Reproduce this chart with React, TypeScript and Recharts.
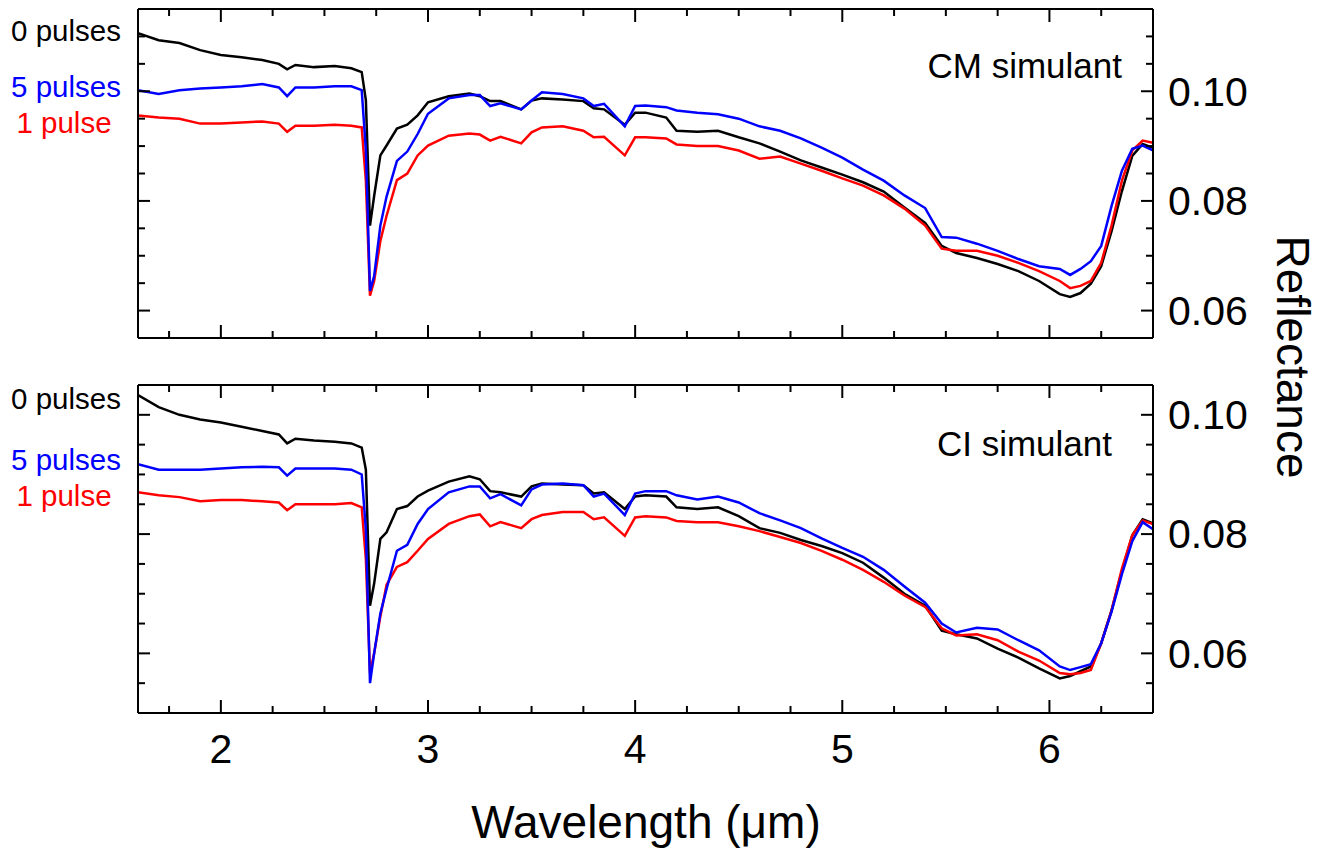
import React from "react";
import { LineChart, Line, XAxis, YAxis } from "recharts";

const FONT = "'Liberation Sans', Arial, sans-serif";

// wavelength grid (µm)
const wavelength = [
  1.6, 1.7, 1.8, 1.9, 2.0, 2.1, 2.2, 2.28, 2.32, 2.36, 2.45, 2.55, 2.63, 2.68,
  2.7, 2.72, 2.74, 2.77, 2.8, 2.85, 2.9, 2.95, 3.0, 3.1, 3.2, 3.25, 3.3, 3.35,
  3.45, 3.5, 3.55, 3.65, 3.75, 3.8, 3.85, 3.95, 4.0, 4.05, 4.15, 4.2, 4.3, 4.4,
  4.5, 4.6, 4.7, 4.8, 4.9, 5.0, 5.1, 5.2, 5.3, 5.4, 5.48, 5.55, 5.65, 5.75,
  5.85, 5.95, 6.05, 6.1, 6.15, 6.2, 6.25, 6.3, 6.35, 6.4, 6.45, 6.5,
];

// CM simulant
const cm0 = [
  0.1106, 0.1093, 0.1088, 0.1075, 0.1066, 0.1062, 0.1057, 0.105, 0.104, 0.1048, 0.1044, 0.1046, 0.1042, 0.1035,
  0.0984, 0.0755, 0.0809, 0.0883, 0.0901, 0.0932, 0.0939, 0.0956, 0.098, 0.0991, 0.0996, 0.0991, 0.0982, 0.0982,
  0.0967, 0.0983, 0.0987, 0.0985, 0.0982, 0.0969, 0.0967, 0.0939, 0.0961, 0.0961, 0.0952, 0.0928, 0.0926, 0.0928,
  0.0916, 0.0905, 0.089, 0.0874, 0.0861, 0.0848, 0.0834, 0.0817, 0.0788, 0.076, 0.0718, 0.0705, 0.0696, 0.0685,
  0.0672, 0.0654, 0.063, 0.0625, 0.0632, 0.0649, 0.0681, 0.0745, 0.0818, 0.0882, 0.0904, 0.0897,
];
const cm5 = [
  0.1002, 0.0995, 0.1002, 0.1005, 0.1007, 0.1009, 0.1013, 0.1007, 0.0991, 0.1007, 0.1007, 0.1009, 0.1009, 0.1002,
  0.0893, 0.0636, 0.0663, 0.0755, 0.0808, 0.0873, 0.089, 0.0922, 0.0959, 0.0987, 0.0993, 0.0993, 0.0973, 0.0978,
  0.0967, 0.0983, 0.0998, 0.0995, 0.0987, 0.0973, 0.0977, 0.0936, 0.0973, 0.0974, 0.0971, 0.0965, 0.0961, 0.0958,
  0.095, 0.0936, 0.0928, 0.0914, 0.0897, 0.0879, 0.0857, 0.0837, 0.081, 0.0787, 0.0734, 0.0733, 0.0722, 0.0709,
  0.0694, 0.0681, 0.0676, 0.0665, 0.0676, 0.069, 0.0718, 0.0791, 0.0855, 0.0895, 0.0901, 0.0892,
];
const cm1 = [
  0.0956, 0.0952, 0.095, 0.0941, 0.0941, 0.0943, 0.0945, 0.0941, 0.0926, 0.0937, 0.0937, 0.0939, 0.0937, 0.0934,
  0.0837, 0.0627, 0.0654, 0.0727, 0.0773, 0.0838, 0.085, 0.0883, 0.0901, 0.0919, 0.0923, 0.0921, 0.091, 0.0917,
  0.0905, 0.0925, 0.0934, 0.0936, 0.0928, 0.0916, 0.0917, 0.0883, 0.0916, 0.0916, 0.0914, 0.0903, 0.09, 0.09,
  0.0892, 0.0877, 0.0881, 0.0868, 0.0855, 0.0841, 0.0828, 0.081, 0.0786, 0.0755, 0.0713, 0.0709, 0.0709, 0.07,
  0.0687, 0.0672, 0.0654, 0.0641, 0.0645, 0.0654, 0.0687, 0.0755, 0.0837, 0.0892, 0.091, 0.0906,
];

// CI simulant
const ci0 = [
  0.1033, 0.1013, 0.1, 0.0992, 0.0987, 0.098, 0.0973, 0.0967, 0.0952, 0.096, 0.0957, 0.0955, 0.0952, 0.0945,
  0.0908, 0.068, 0.0717, 0.0792, 0.0803, 0.0842, 0.0847, 0.0863, 0.0873, 0.0888, 0.0897, 0.0892, 0.0872, 0.087,
  0.0863, 0.088, 0.0885, 0.0883, 0.0882, 0.0868, 0.087, 0.0842, 0.0863, 0.0865, 0.0863, 0.0845, 0.0842, 0.0845,
  0.083, 0.081, 0.0802, 0.079, 0.078, 0.0768, 0.0752, 0.0727, 0.07, 0.068, 0.0638, 0.0632, 0.0625, 0.0608,
  0.0593, 0.0575, 0.0558, 0.0562, 0.057, 0.0578, 0.0617, 0.0672, 0.0738, 0.0798, 0.0825, 0.0818,
];
const ci5 = [
  0.0917, 0.0908, 0.0908, 0.0908, 0.091, 0.0912, 0.0913, 0.0912, 0.0898, 0.091, 0.091, 0.091, 0.0908, 0.09,
  0.0808, 0.055, 0.06, 0.0667, 0.0708, 0.0772, 0.0782, 0.0817, 0.0842, 0.087, 0.088, 0.088, 0.086, 0.0867,
  0.0848, 0.0875, 0.0883, 0.0885, 0.0882, 0.0863, 0.0868, 0.0832, 0.0868, 0.0872, 0.0872, 0.0865, 0.0858, 0.0863,
  0.0853, 0.0835, 0.0823, 0.081, 0.0793, 0.0777, 0.0762, 0.074, 0.0712, 0.0685, 0.065, 0.0635, 0.0643, 0.064,
  0.0622, 0.0605, 0.0578, 0.0572, 0.0577, 0.0582, 0.0617, 0.067, 0.0733, 0.0788, 0.082, 0.0808,
];
const ci1 = [
  0.087, 0.0865, 0.0862, 0.0855, 0.0857, 0.0857, 0.0855, 0.0853, 0.084, 0.085, 0.085, 0.085, 0.0852, 0.0845,
  0.0758, 0.0567, 0.06, 0.0662, 0.0715, 0.0745, 0.0753, 0.0772, 0.0792, 0.0817, 0.083, 0.0833, 0.0813, 0.082,
  0.081, 0.0825, 0.0832, 0.0837, 0.0837, 0.0825, 0.0828, 0.0797, 0.0828, 0.083, 0.0828, 0.0822, 0.082, 0.082,
  0.0813, 0.0805, 0.0795, 0.0785, 0.0772, 0.0757, 0.074, 0.072, 0.0697, 0.0678, 0.0642, 0.063, 0.0632, 0.0622,
  0.0603, 0.0588, 0.0567, 0.0565, 0.0567, 0.0572, 0.0617, 0.0672, 0.0742, 0.0798, 0.0823, 0.0817,
];

const xTicks = [1.75, 2, 2.25, 2.5, 2.75, 3, 3.25, 3.5, 3.75, 4, 4.25, 4.5, 4.75, 5, 5.25, 5.5, 5.75, 6, 6.25];
const cmTicks = [0.06, 0.065, 0.07, 0.075, 0.08, 0.085, 0.09, 0.095, 0.1, 0.105, 0.11];
const ciTicks = [0.055, 0.06, 0.065, 0.07, 0.075, 0.08, 0.085, 0.09, 0.095, 0.1];

const cmData = wavelength.map((w, i) => ({ w, p0: cm0[i], p1: cm1[i], p5: cm5[i] }));
const ciData = wavelength.map((w, i) => ({ w, p0: ci0[i], p1: ci1[i], p5: ci5[i] }));

const isMajorX = (v: number) => Math.abs(v - Math.round(v)) < 1e-6;
const isMajorY = (v: number) => Math.abs(v * 50 - Math.round(v * 50)) < 1e-6;

// ticks point inward; labels only on bottom x and right y
const XTick = (props: any) => {
  const { x, y, payload, dir, label } = props;
  const major = isMajorX(payload.value);
  const len = major ? 13 : 7;
  const y2 = dir === "down" ? y + len : y - len;
  return (
    <g>
      <line x1={x} y1={y} x2={x} y2={y2} stroke="#000" strokeWidth={2} />
      {label && major && (
        <text x={x} y={y + 50} textAnchor="middle" fontSize={41} fontFamily={FONT} fill="#000">
          {payload.value}
        </text>
      )}
    </g>
  );
};

const YTick = (props: any) => {
  const { x, y, payload, side } = props;
  const major = isMajorY(payload.value);
  const len = major ? 12 : 7;
  const x2 = side === "right" ? x - len : x + len;
  return (
    <g>
      <line x1={x} y1={y} x2={x2} y2={y} stroke="#000" strokeWidth={2} />
      {side === "right" && major && (
        <text x={x + 15} y={y} dy="0.35em" textAnchor="start" fontSize={41} fontFamily={FONT} fill="#000">
          {payload.value.toFixed(2)}
        </text>
      )}
    </g>
  );
};

const axisLine = { stroke: "#000", strokeWidth: 2 };

function Panel({ data, domain, yTicks, height, margin, bottomHeight, showXLabels }: any) {
  return (
    <LineChart width={1329} height={height} data={data} margin={margin}>
      <XAxis
        xAxisId="b"
        type="number"
        dataKey="w"
        domain={[1.6, 6.5]}
        ticks={xTicks}
        interval={0}
        allowDataOverflow
        height={bottomHeight}
        tickSize={0}
        tickMargin={0}
        tickLine={false}
        axisLine={axisLine}
        tick={(p: any) => <XTick {...p} dir="up" label={showXLabels} />}
      />
      <XAxis
        xAxisId="t"
        orientation="top"
        type="number"
        dataKey="w"
        domain={[1.6, 6.5]}
        ticks={xTicks}
        interval={0}
        allowDataOverflow
        height={1}
        tickSize={0}
        tickMargin={0}
        tickLine={false}
        axisLine={axisLine}
        tick={(p: any) => <XTick {...p} dir="down" />}
      />
      <YAxis
        yAxisId="r"
        orientation="right"
        type="number"
        domain={domain}
        ticks={yTicks}
        interval={0}
        allowDataOverflow
        width={100}
        tickSize={0}
        tickMargin={0}
        tickLine={false}
        axisLine={axisLine}
        tick={(p: any) => <YTick {...p} side="right" />}
      />
      <YAxis
        yAxisId="l"
        orientation="left"
        type="number"
        domain={domain}
        ticks={yTicks}
        interval={0}
        allowDataOverflow
        width={1}
        tickSize={0}
        tickMargin={0}
        tickLine={false}
        axisLine={axisLine}
        tick={(p: any) => <YTick {...p} side="left" />}
      />
      <Line xAxisId="b" yAxisId="r" dataKey="p0" stroke="#000000" strokeWidth={2.5} dot={false} type="linear" isAnimationActive={false} />
      <Line xAxisId="b" yAxisId="r" dataKey="p1" stroke="#ff0000" strokeWidth={2.5} dot={false} type="linear" isAnimationActive={false} />
      <Line xAxisId="b" yAxisId="r" dataKey="p5" stroke="#0000ff" strokeWidth={2.5} dot={false} type="linear" isAnimationActive={false} />
    </LineChart>
  );
}

export default function App() {
  const txt = { fontFamily: FONT };
  return (
    <div style={{ position: "absolute", left: 0, top: 0, width: 1329, height: 852, background: "#fff" }}>
      <div style={{ position: "absolute", left: 0, top: 0 }}>
        <Panel
          data={cmData}
          domain={[0.055, 0.115]}
          yTicks={cmTicks}
          height={350}
          margin={{ top: 8, right: 76, bottom: 11, left: 137 }}
          bottomHeight={1}
          showXLabels={false}
        />
      </div>
      <div style={{ position: "absolute", left: 0, top: 370 }}>
        <Panel
          data={ciData}
          domain={[0.05, 0.105]}
          yTicks={ciTicks}
          height={482}
          margin={{ top: 14, right: 76, bottom: 79, left: 137 }}
          bottomHeight={60}
          showXLabels={true}
        />
      </div>
      <svg width={1329} height={852} style={{ position: "absolute", left: 0, top: 0, pointerEvents: "none" }}>
        <g style={txt}>
          <text x={66} y={41} textAnchor="middle" fontSize={29.5} fill="#000">0 pulses</text>
          <text x={66} y={97} textAnchor="middle" fontSize={29.5} fill="#0000ff">5 pulses</text>
          <text x={64} y={133} textAnchor="middle" fontSize={29.5} fill="#ff0000">1 pulse</text>
          <text x={66} y={409} textAnchor="middle" fontSize={29.5} fill="#000">0 pulses</text>
          <text x={66} y={470} textAnchor="middle" fontSize={29.5} fill="#0000ff">5 pulses</text>
          <text x={64} y={506} textAnchor="middle" fontSize={29.5} fill="#ff0000">1 pulse</text>
          <text x={1122} y={78} textAnchor="end" fontSize={35} fill="#000">CM simulant</text>
          <text x={1112} y={456} textAnchor="end" fontSize={35} fill="#000">CI simulant</text>
          <text x={646} y={838} textAnchor="middle" fontSize={46} fill="#000">Wavelength (μm)</text>
          <text transform="translate(1277,357) rotate(90)" textAnchor="middle" fontSize={46} fill="#000">Reflectance</text>
        </g>
      </svg>
    </div>
  );
}
